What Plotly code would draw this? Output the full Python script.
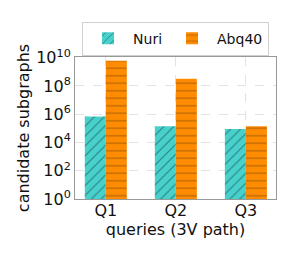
import plotly.graph_objects as go

queries = ["Q1", "Q2", "Q3"]
nuri = [7e5, 1.4e5, 9e4]
abq40 = [6e9, 3.3e8, 1.4e5]
ytick_vals = [1, 1e2, 1e4, 1e6, 1e8, 1e10]
ytick_text = ["10<sup>0</sup>", "10<sup>2</sup>", "10<sup>4</sup>", "10<sup>6</sup>", "10<sup>8</sup>", "10<sup>10</sup>"]

font = "DejaVu Sans"
fig = go.Figure()
fig.add_trace(go.Bar(
    x=queries, y=nuri, name="Nuri", offsetgroup=0,
    marker=dict(color="#48D1CC", line=dict(width=0),
                pattern=dict(shape="/", fgcolor="#0f2f2d", size=7, solidity=0.16)),
))
fig.add_trace(go.Bar(
    x=queries, y=abq40, name="Abq40", offsetgroup=1,
    marker=dict(color="#FF8C00", line=dict(width=0),
                pattern=dict(shape="-", fgcolor="#6e3a0c", size=7.5, solidity=0.16)),
))
fig.update_layout(
    width=287, height=257,
    margin=dict(l=67, r=19, t=49, b=66, autoexpand=False),
    barmode="group", bargap=0.4, bargroupgap=0,
    plot_bgcolor="white", paper_bgcolor="white",
    font=dict(family=font, size=16, color="#111"),
    showlegend=True,
    legend=dict(orientation="h", x=0.035, xanchor="left", y=1.01, yanchor="bottom",
                bordercolor="#d0d0d0", borderwidth=1, bgcolor="white",
                font=dict(size=14), itemwidth=40, tracegroupgap=0),
    xaxis=dict(title=dict(text="queries (3V path)", font=dict(size=16), standoff=0),
               range=[-0.44, 2.43], showgrid=True, gridcolor="#e3e3e3", griddash="dash",
               showline=True, linecolor="#999", mirror=True, ticks="", tickfont=dict(size=16),
               ticklabelstandoff=-3),
    yaxis=dict(title=dict(text="candidate subgraphs", font=dict(size=16), standoff=2),
               type="log", range=[0, 10.05], tickvals=ytick_vals, ticktext=ytick_text,
               showgrid=True, gridcolor="#e3e3e3", griddash="dash",
               showline=True, linecolor="#999", mirror=True, ticks="", tickfont=dict(size=16)),
)
fig.write_html("out.html")
